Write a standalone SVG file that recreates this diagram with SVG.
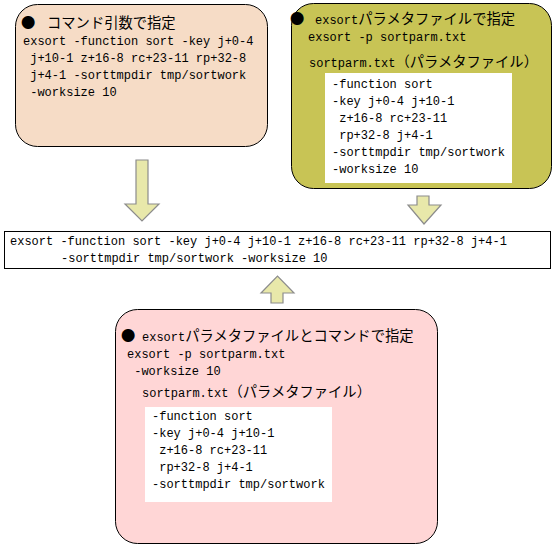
<svg xmlns="http://www.w3.org/2000/svg" width="554" height="545" viewBox="0 0 554 545">
<style>
.t{font-family:"Liberation Mono","Noto Sans CJK JP",monospace;font-size:12px;fill:#000;white-space:pre}
.j{font-family:"Noto Sans CJK JP","Noto Sans CJK SC",sans-serif;font-size:14.3px}
.box{stroke:#000;stroke-width:1}
.arr{fill:#E8E8AA;stroke:#8C8C8C;stroke-width:1.2}
</style>
<rect width="554" height="545" fill="#fff"/>
<g id="connectors">
<path class="arr" d="M136,160 H148 V204 H159 L142,221 L125,204 H136 Z"/>
<path class="arr" d="M417,196 H429 V205 H441 L424,224 L408,205 H417 Z"/>
<path class="arr" d="M271,303 H283 V293 H294 L277.5,276 L261,293 H271 Z"/>
</g>
<g id="node-cmdline">
<rect class="box" x="15.5" y="4.5" width="252" height="142" rx="22" ry="22" fill="#F6DCC6"/>
<text class="t" y="28"><tspan class="j" x="21">●</tspan><tspan class="j" x="47">コマンド引数で指定</tspan></text>
<text class="t" x="23" y="45" xml:space="preserve">exsort -function sort -key j+0-4</text>
<text class="t" x="23" y="62" xml:space="preserve"> j+10-1 z+16-8 rc+23-11 rp+32-8</text>
<text class="t" x="23" y="79" xml:space="preserve"> j+4-1 -sorttmpdir tmp/sortwork</text>
<text class="t" x="23" y="96" xml:space="preserve"> -worksize 10</text>
</g>
<g id="node-paramfile">
<rect class="box" x="291.5" y="3.5" width="260" height="185" rx="22" ry="22" fill="#C8C455"/>
<text class="t" y="24"><tspan class="j" x="290">●</tspan><tspan x="315">exsort</tspan><tspan class="j">パラメタファイルで指定</tspan></text>
<text class="t" x="308" y="41" xml:space="preserve">exsort -p sortparm.txt</text>
<text class="t" x="309" y="67">sortparm.txt<tspan class="j">（パラメタファイル）</tspan></text>
<rect x="325" y="73" width="187" height="110" fill="#fff"/>
<text class="t" x="332" y="88" xml:space="preserve">-function sort</text>
<text class="t" x="332" y="105" xml:space="preserve">-key j+0-4 j+10-1</text>
<text class="t" x="332" y="122" xml:space="preserve"> z+16-8 rc+23-11</text>
<text class="t" x="332" y="139" xml:space="preserve"> rp+32-8 j+4-1</text>
<text class="t" x="332" y="156" xml:space="preserve">-sorttmpdir tmp/sortwork</text>
<text class="t" x="332" y="173" xml:space="preserve">-worksize 10</text>
</g>
<g id="node-result">
<rect class="box" x="4.5" y="231.5" width="546" height="37" fill="#fff"/>
<text class="t" x="10" y="245" xml:space="preserve">exsort -function sort -key j+0-4 j+10-1 z+16-8 rc+23-11 rp+32-8 j+4-1</text>
<text class="t" x="61" y="262" xml:space="preserve">-sorttmpdir tmp/sortwork -worksize 10</text>
</g>
<g id="node-both">
<rect class="box" x="115.5" y="309.5" width="322" height="234" rx="22" ry="22" fill="#FFD6D6"/>
<text class="t" y="341"><tspan class="j" x="121">●</tspan><tspan x="142">exsort</tspan><tspan class="j">パラメタファイルとコマンドで指定</tspan></text>
<text class="t" x="127" y="358" xml:space="preserve">exsort -p sortparm.txt</text>
<text class="t" x="127" y="375" xml:space="preserve"> -worksize 10</text>
<text class="t" x="142" y="397">sortparm.txt<tspan class="j">（パラメタファイル）</tspan></text>
<rect x="145" y="407" width="187" height="95" fill="#fff"/>
<text class="t" x="152" y="420" xml:space="preserve">-function sort</text>
<text class="t" x="152" y="437" xml:space="preserve">-key j+0-4 j+10-1</text>
<text class="t" x="152" y="454" xml:space="preserve"> z+16-8 rc+23-11</text>
<text class="t" x="152" y="471" xml:space="preserve"> rp+32-8 j+4-1</text>
<text class="t" x="152" y="488" xml:space="preserve">-sorttmpdir tmp/sortwork</text>
</g>
</svg>
